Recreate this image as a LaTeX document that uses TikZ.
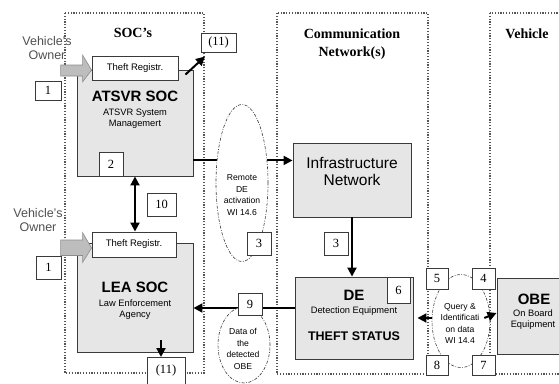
\documentclass[tikz,border=0pt]{standalone}
\usepackage{fontspec}
\setmainfont{Liberation Serif}
\setsansfont{Liberation Sans}
\usetikzlibrary{calc,arrows.meta,shapes.geometric}

\definecolor{boxgray}{HTML}{E6E6E6}
\definecolor{edgegray}{HTML}{3A3A3A}
\definecolor{panelgray}{HTML}{555555}
\definecolor{ownergray}{HTML}{505050}
\definecolor{blockfill}{HTML}{BDBDBD}
\definecolor{blockedge}{HTML}{8C8C8C}

\begin{document}
\begin{tikzpicture}[x=1pt,y=-1pt,
  panel/.style={draw=panelgray, line width=1.1pt, dash pattern=on 1.2pt off 1.6pt},
  heading/.style={font=\fontsize{14}{18}\selectfont\bfseries, align=center},
  owner/.style={text=ownergray, font=\sffamily\fontsize{12.5}{14}\selectfont, align=center},
  unitbox/.style={draw=edgegray, fill=boxgray, line width=0.9pt, inner sep=0pt},
  regbox/.style={draw=edgegray, fill=white, line width=0.9pt, inner sep=0pt,
    minimum height=24pt, font=\sffamily\fontsize{9.5}{11}\selectfont},
  numbox/.style={draw=edgegray, fill=white, line width=0.8pt, inner sep=0pt,
    font=\fontsize{12.5}{13}\selectfont},
  bigtitle/.style={font=\sffamily\bfseries\fontsize{15}{17}\selectfont},
  subtitle/.style={font=\sffamily\fontsize{9.3}{11.5}\selectfont, align=center},
  cloud/.style={ellipse, draw=edgegray, fill=white, line width=0.6pt,
    dash pattern=on 3pt off 1.5pt on 0.8pt off 1.5pt, inner sep=0pt},
  cloudtext/.style={font=\sffamily\fontsize{8.6}{11.5}\selectfont, align=center},
  flow/.style={line width=2pt, -{Triangle[length=9pt,width=9pt]}},
  flowboth/.style={line width=2pt, {Triangle[length=9pt,width=9pt]}-{Triangle[length=9pt,width=9pt]}},
  blockarrow/.style={fill=blockfill, draw=blockedge, line width=0.6pt}
]
\useasboundingbox (0,0) rectangle (559,383);

% domain panels
\draw[panel] (65,13) rectangle (204,373);
\draw[panel] (277,13) rectangle (428,374);
\draw[panel] (490,13) rectangle (580,374);

\node[heading] (hsoc) at (133,33) {SOC's};
\node[heading] (hcom) at (352,44) {Communication\\Network(s)};
\node[heading] (hveh) at (527,34) {Vehicle};

\node[owner] (own1) at (47,48) {Vehicle's\\Owner};
\node[owner] (own2) at (38,220) {Vehicle's\\Owner};

% main units
\node[unitbox, minimum width=116pt, minimum height=106pt] (atsvr) at (135,123) {};
\node[unitbox, minimum width=116pt, minimum height=109pt] (lea) at (135,297.5) {};
\node[unitbox, minimum width=118pt, minimum height=74pt] (infra) at (352,180) {};
\node[unitbox, minimum width=118pt, minimum height=82pt] (de) at (354,318) {};
\node[unitbox, minimum width=70pt, minimum height=76pt] (obe) at (532,316) {};

% registration boxes
\node[regbox, minimum width=86pt] (reg1) at (135,68) {Theft Registr.};
\node[regbox, minimum width=84pt, minimum height=25pt] (reg2) at (134,244.5) {Theft Registr.};

% owner input arrows
\draw[blockarrow] ($(reg1.west)+(-31,-3)$) -- ($(reg1.west)+(-9,-3)$) -- ($(reg1.west)+(-9,-13)$)
  -- ($(reg1.west)+(0,2)$) -- ($(reg1.west)+(-9,14)$) -- ($(reg1.west)+(-9,8)$)
  -- ($(reg1.west)+(-31,8)$) -- cycle;
\draw[blockarrow] ($(reg2.west)+(-31,-4.5)$) -- ($(reg2.west)+(-9,-4.5)$) -- ($(reg2.west)+(-9,-12)$)
  -- ($(reg2.west)+(0,3.5)$) -- ($(reg2.west)+(-9,18)$) -- ($(reg2.west)+(-9,11)$)
  -- ($(reg2.west)+(-31,11)$) -- cycle;

% connectors
\coordinate (atsvrout) at ($(atsvr.south east)+(0,-16)$);
\draw[flow] (atsvrout) -- (atsvrout -| infra.west);
\draw[flowboth] (atsvr.south) -- (atsvr.south |- reg2.north);
\draw[flow] (infra.south) -- (infra.south |- de.north);
\coordinate (deout) at ($(de.west)+(0,-10)$);
\draw[flow] (deout) -- (deout -| lea.east);

% annotation ellipses
\node[cloud, minimum width=52pt, minimum height=157pt] (remote) at (242,183) {};
\node[cloudtext] (remotetxt) at (242,195) {Remote\\DE\\activation\\WI 14.6};
\node[cloud, minimum width=52pt, minimum height=76pt] (data) at (244,345) {};
\node[cloudtext] (datatxt) at (243,349) {Data of\\the\\detected\\OBE};
\node[cloud, minimum width=58pt, minimum height=93pt] (query) at (461,321) {};
\node[cloudtext] (querytxt) at (460,323.5) {Query \&\\Identificati\\on data\\WI 14.4};

% air interface between DE and OBE
\draw[flow, shorten >=4pt] ($(query.west)+(0,-3)$) -- ($(de.east)+(0,0)$);
\draw[flow] ($(query.east)+(-6,-3)$) -- ($(obe.west)+(0,-3)$);

% unit captions
\node[bigtitle] (atsvrt) at ($(atsvr.north)+(0,27)$) {ATSVR SOC};
\node[subtitle] (atsvrs) at ($(atsvr.north)+(0,49)$) {ATSVR System\\Managemert};
\node[bigtitle] (leat) at ($(lea.north)+(0,45)$) {LEA SOC};
\node[subtitle] (leas) at ($(lea.north)+(0,67)$) {Law Enforcement\\Agency};
\node[font=\sffamily\fontsize{15.5}{17}\selectfont, align=center] (infrat) at ($(infra.north)+(0,28.5)$) {Infrastructure\\Network};
\node[bigtitle] (det) at ($(de.north)+(0,19)$) {DE};
\node[subtitle] (des) at ($(de.north)+(0,35)$) {Detection Equipment};
\node[font=\sffamily\bfseries\fontsize{12.5}{14}\selectfont] (destatus) at ($(de.north)+(0,60)$) {THEFT STATUS};
\node[bigtitle] (obet) at ($(obe.north)+(2,22)$) {OBE};
\node[subtitle] (obes) at ($(obe.north)+(1,42)$) {On Board\\Equipment};

% outputs
\draw[flow] ($(atsvr.north east)+(-8,5)$) -- (205,56.5);
\coordinate (leaout) at ($(lea.south)+(26,-12)$);
\draw[flow] (leaout) -- (leaout |- 0,357);

% step numbers
\node[numbox, minimum width=26pt, minimum height=19pt] (n1a) at (48,90.5) {1};
\node[numbox, minimum width=25pt, minimum height=23pt] (n1b) at (48.5,267.5) {1};
\node[numbox, minimum width=24pt, minimum height=24pt] (n2) at (111,164) {2};
\node[numbox, minimum width=24pt, minimum height=23pt] (n3a) at (259,243.5) {3};
\node[numbox, minimum width=24pt, minimum height=23pt] (n3b) at (336,243.5) {3};
\node[numbox, minimum width=23pt, minimum height=21pt] (n4) at (483.5,278.5) {4};
\node[numbox, minimum width=22pt, minimum height=21pt] (n5) at (437,278.5) {5};
\node[numbox, minimum width=23pt, minimum height=26pt] (n6) at (398.5,290) {6};
\node[numbox, minimum width=23pt, minimum height=20pt] (n7) at (483.5,365) {7};
\node[numbox, minimum width=22pt, minimum height=20pt] (n8) at (437,365) {8};
\node[numbox, minimum width=24pt, minimum height=22pt] (n9) at (250,304) {9};
\node[numbox, minimum width=29pt, minimum height=23pt] (n10) at (161.5,204.5) {10};
\node[numbox, minimum width=35pt, minimum height=19pt] (n11a) at (218.5,42.5) {(11)};
\node[numbox, minimum width=38pt, minimum height=28pt, text depth=0pt] (n11b) at (166,371) {\raisebox{3pt}{(11)}};
\end{tikzpicture}
\end{document}
